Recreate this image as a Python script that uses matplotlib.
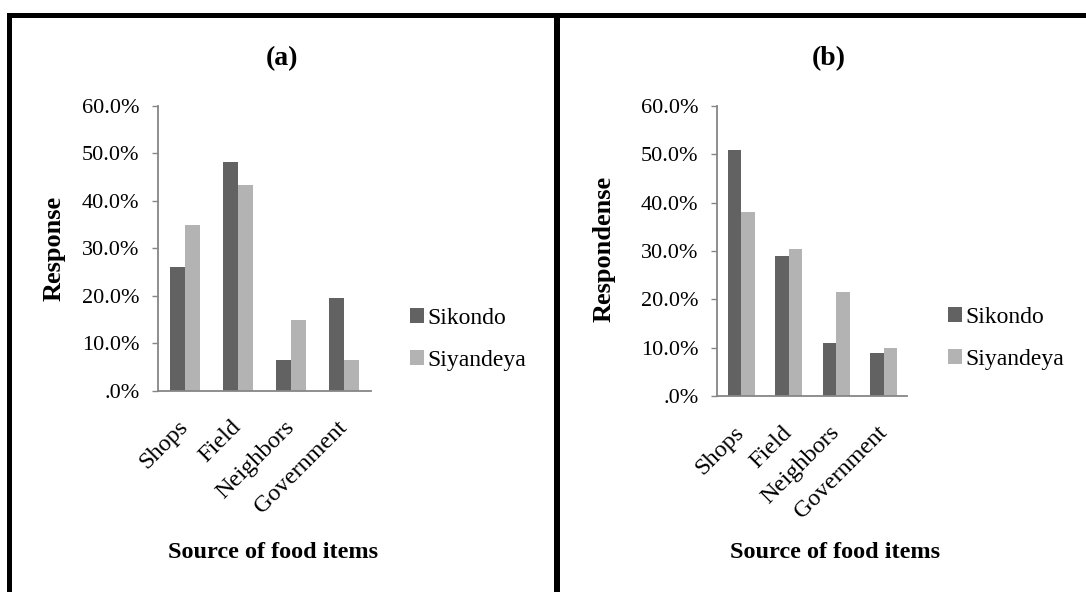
import matplotlib
matplotlib.use("Agg")
import matplotlib.pyplot as plt
import numpy as np
from matplotlib.patches import Rectangle
from matplotlib.ticker import FuncFormatter

# Source of food items, two villages, two survey questions
categories = ["Shops", "Field", "Neighbors", "Government"]
series_names = ["Sikondo", "Siyandeya"]

sikondo_a = [26.0, 48.3, 6.5, 19.5]
siyandeya_a = [35.0, 43.4, 15.0, 6.5]

sikondo_b = [50.9, 29.0, 11.0, 9.0]
siyandeya_b = [38.0, 30.5, 21.5, 10.0]

y_ticks = [0, 10, 20, 30, 40, 50, 60]

W, H = 1086, 592
DARK = "#626262"
LIGHT = "#b3b3b3"
AXIS = "#868686"
SERIF = ["Liberation Serif", "DejaVu Serif"]

plt.rcParams["font.family"] = SERIF


def fx(px):
    return px / W


def fy(py):
    # pixel row measured from the top
    return 1 - py / H


def excel_pct(v, pos):
    s = f"{v:.1f}%"
    return s[1:] if s.startswith("0") else s


def draw_panel(fig, rect, vals1, vals2, title, title_xy, ylabel, ylabel_xy,
               xlabel_xy, legend_xy):
    ax = fig.add_axes(rect)
    x = np.arange(len(categories))
    w = 0.285
    ax.bar(x - w / 2, vals1, w, color=DARK, label=series_names[0])
    ax.bar(x + w / 2, vals2, w, color=LIGHT, label=series_names[1])

    ax.set_xlim(-0.5, len(categories) - 0.5)
    ax.set_ylim(0, 60)
    ax.set_yticks(y_ticks)
    ax.yaxis.set_major_formatter(FuncFormatter(excel_pct))
    ax.set_xticks(x)
    ax.set_xticklabels(categories)

    for side in ["top", "right"]:
        ax.spines[side].set_visible(False)
    for side in ["left", "bottom"]:
        ax.spines[side].set_color(AXIS)
        ax.spines[side].set_linewidth(1.3)

    ax.tick_params(axis="y", direction="out", length=4.5, width=1.0,
                   color=AXIS, labelsize=16, pad=9)
    ax.tick_params(axis="x", length=0, labelsize=17.5, pad=24)
    for lab in ax.get_xticklabels():
        lab.set_rotation(45)
        lab.set_ha("right")
        lab.set_va("center")
        lab.set_rotation_mode("anchor")

    fig.text(title_xy[0], title_xy[1], title, ha="center", va="center",
             fontsize=20, fontweight="bold")
    fig.text(ylabel_xy[0], ylabel_xy[1], ylabel, ha="center", va="center",
             rotation=90, fontsize=19, fontweight="bold")
    fig.text(xlabel_xy[0], xlabel_xy[1], "Source of food items", ha="center",
             va="center", fontsize=17.5, fontweight="bold")

    ax.legend(loc="center left", bbox_to_anchor=legend_xy,
              bbox_transform=fig.transFigure, frameon=False, fontsize=17,
              handlelength=0.58, handleheight=0.58, handletextpad=0.15,
              labelspacing=0.9, borderpad=0, borderaxespad=0)
    return ax


fig = plt.figure(figsize=(W / 100, H / 100), dpi=100)

# panel (a)
draw_panel(fig,
           [fx(158.3), fy(390.7), fx(370.7) - fx(158.3), fy(106) - fy(390.7)],
           sikondo_a, siyandeya_a, "(a)", (fx(282), fy(59)),
           "Response", (fx(54), fy(248)), (fx(273), fy(553)),
           (fx(410), fy(339.5)))

# panel (b)
draw_panel(fig,
           [fx(717.3), fy(396), fx(907.3) - fx(717.3), fy(106) - fy(396)],
           sikondo_b, siyandeya_b, "(b)", (fx(829), fy(58.5)),
           "Respondense", (fx(604), fy(249)), (fx(835), fy(553)),
           (fx(948), fy(338.3)))

# black frames round both panels
for (x0, y0, w, h) in [(7, 13, W - 7, 5), (7, 13, 5, H - 13),
                       (554, 13, 6, H - 13)]:
    fig.add_artist(Rectangle((fx(x0), fy(y0 + h)), fx(w), h / H,
                             transform=fig.transFigure, color="black",
                             linewidth=0))

fig.savefig("out.png", dpi=100)
